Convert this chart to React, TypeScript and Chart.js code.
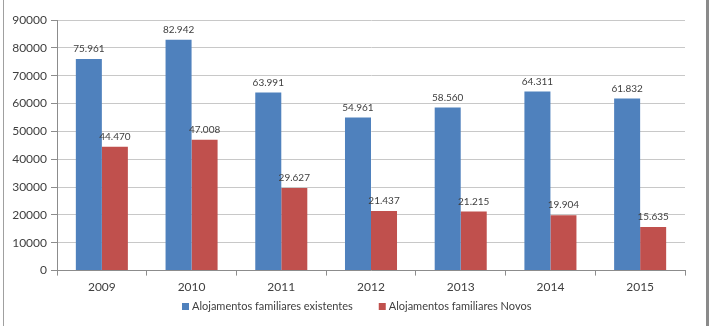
import React, { useEffect, useRef } from "react";
import { Chart, registerables } from "chart.js";

Chart.register(...registerables);

const years = ["2009", "2010", "2011", "2012", "2013", "2014", "2015"];
const existentes = [75961, 82942, 63991, 54961, 58560, 64311, 61832];
const novos = [44470, 47008, 29627, 21437, 21215, 19904, 15635];
const yTicks = [0, 10000, 20000, 30000, 40000, 50000, 60000, 70000, 80000, 90000];

const FONT = "Lato, 'Open Sans', sans-serif";

// thousands with a dot separator, e.g. 75961 -> "75.961"
const fmt = (v: number) => String(v).replace(/\B(?=(\d{3})+(?!\d))/g, ".");

const valueLabels = {
  id: "valueLabels",
  afterDatasetsDraw(chart: any) {
    const ctx = chart.ctx;
    ctx.save();
    ctx.font = `10px ${FONT}`;
    ctx.fillStyle = "#404040";
    ctx.textAlign = "center";
    ctx.textBaseline = "bottom";
    chart.data.datasets.forEach((ds: any, i: number) => {
      const meta = chart.getDatasetMeta(i);
      meta.data.forEach((el: any, j: number) => {
        ctx.fillText(fmt(ds.data[j]), el.x, el.y - 5);
      });
    });
    ctx.restore();
  },
};

// compact legend row under the axis: square swatch + label, centred
const bottomLegend = {
  id: "bottomLegend",
  afterDraw(chart: any) {
    const ctx = chart.ctx;
    const box = 7;
    const gapText = 3;
    const gapItem = 26;
    const y = 306;
    ctx.save();
    ctx.font = `11px ${FONT}`;
    ctx.textBaseline = "middle";
    const items = chart.data.datasets.map((ds: any) => ({
      text: ds.label,
      color: ds.backgroundColor,
      w: ctx.measureText(ds.label).width,
    }));
    const total =
      items.reduce((a: number, it: any) => a + box + gapText + it.w, 0) + gapItem * (items.length - 1);
    let x = Math.round(357 - total / 2);
    items.forEach((it: any) => {
      ctx.fillStyle = it.color;
      ctx.fillRect(x, Math.round(y - box / 2), box, box);
      x += box + gapText;
      ctx.fillStyle = "#404040";
      ctx.textAlign = "left";
      ctx.fillText(it.text, x, y);
      x += it.w + gapItem;
    });
    ctx.restore();
  },
};

export default function App() {
  const ref = useRef<HTMLCanvasElement>(null);

  useEffect(() => {
    if (!ref.current) return;
    const chart = new Chart(ref.current, {
      type: "bar",
      data: {
        labels: years,
        datasets: [
          {
            label: "Alojamentos familiares existentes",
            data: existentes,
            backgroundColor: "#4F81BD",
            categoryPercentage: 0.58,
            barPercentage: 1,
          },
          {
            label: "Alojamentos familiares Novos",
            data: novos,
            backgroundColor: "#C0504D",
            categoryPercentage: 0.58,
            barPercentage: 1,
          },
        ],
      },
      options: {
        animation: false,
        responsive: false,
        layout: { padding: { top: 20, right: 27, bottom: 28, left: 0 } },
        plugins: {
          tooltip: { enabled: false },
          legend: { display: false },
        },
        scales: {
          x: {
            grid: {
              display: true,
              drawOnChartArea: false,
              drawTicks: true,
              tickLength: 5,
              color: "#8c8c8c",
            },
            border: { color: "#8c8c8c" },
            ticks: { color: "#404040", font: { family: FONT, size: 12 }, padding: 4 },
          },
          y: {
            min: 0,
            max: 90000,
            afterFit: (s: any) => {
              s.width = 57;
            },
            afterBuildTicks: (s: any) => {
              s.ticks = yTicks.map((v) => ({ value: v }));
            },
            grid: { color: "#c8c8c8", tickLength: 6, tickColor: "#8c8c8c" },
            border: { color: "#8c8c8c" },
            ticks: {
              color: "#404040",
              font: { family: FONT, size: 12 },
              padding: 4,
              callback: (v: any) => String(v),
            },
          },
        },
      },
      plugins: [valueLabels, bottomLegend],
    });
    return () => chart.destroy();
  }, []);

  return (
    <div style={{ position: "fixed", left: 0, top: 0, width: 712, height: 326, background: "#fff" }}>
      <canvas ref={ref} width={712} height={326} style={{ position: "absolute", left: 0, top: 0 }} />
      <div
        style={{
          position: "absolute",
          left: 3,
          top: 0,
          width: 702,
          height: 326,
          borderLeft: "1px solid #a0a0a0",
          borderRight: "3px solid #8a8a8a",
          pointerEvents: "none",
        }}
      />
    </div>
  );
}
